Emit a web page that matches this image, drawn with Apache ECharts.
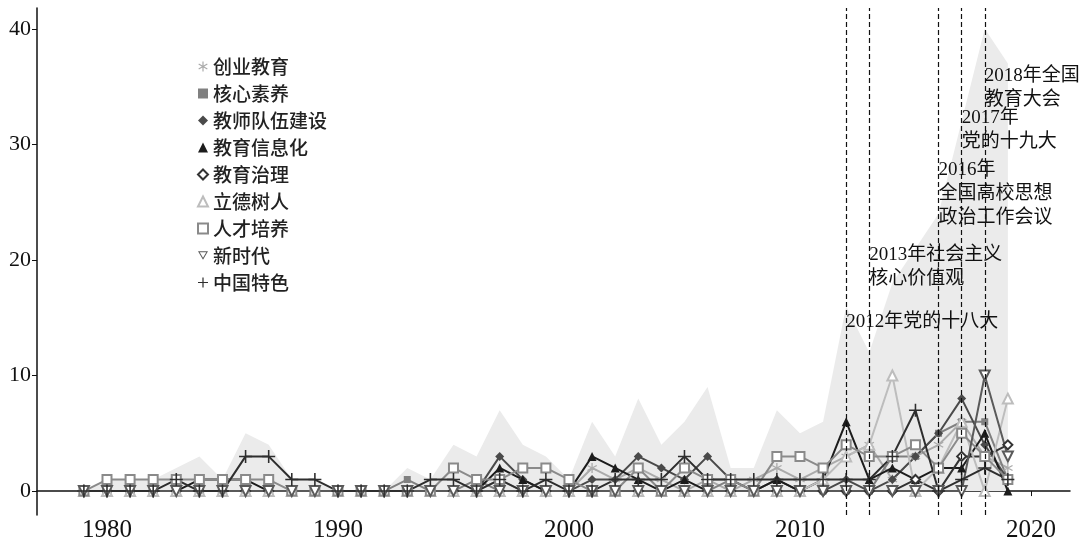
<!DOCTYPE html>
<html>
<head>
<meta charset="utf-8">
<script src="https://cdn.jsdelivr.net/npm/echarts@6/dist/echarts.min.js"></script>
<style>
html,body{margin:0;padding:0;background:#fff;}
#chart{width:1080px;height:543px;}
</style>
</head>
<body>
<div id="chart"></div>
<script>
// ---------- data ----------
const years = [];
for (let y = 1979; y <= 2019; y++) years.push(y);

const xTicks = [1980, 1990, 2000, 2010, 2020];
const yTicks = [0, 10, 20, 30, 40];

// total (grey area)
const total = [0,1,1,1,2,3,1,5,4,1,1,0,0,0,2,1,4,3,7,4,3,1,6,3,8,4,6,9,2,2,7,5,6,16,12,18,21,24,32,40,37];

const chuangye = [0,0,0,0,0,0,0,0,0,0,0,0,0,0,0,0,0,0,1,0,0,0,2,1,2,1,0,1,0,1,2,1,2,3,4,1,3,4,6,3,2];
const hexin    = [0,0,0,0,0,0,0,0,0,0,0,0,0,0,1,0,0,1,0,0,0,0,0,0,0,0,0,0,1,0,0,0,0,0,0,3,3,5,6,6,1];
const jiaoshi  = [0,0,0,0,0,0,0,0,0,0,0,0,0,0,0,0,0,0,3,1,0,0,1,1,3,2,1,3,1,0,1,0,0,1,0,1,3,5,8,4,1];
const xinxi    = [0,0,0,0,0,1,1,1,0,0,0,0,0,0,0,0,0,0,2,1,0,0,3,2,1,0,1,0,0,0,1,0,1,6,1,2,1,2,2,5,0];
const zhili    = [0,0,0,0,0,0,0,0,0,0,0,0,0,0,0,0,0,0,0,0,0,0,0,0,0,0,0,0,0,0,0,0,0,0,0,0,1,0,3,3,4];
const lide     = [0,0,0,0,0,0,0,0,0,0,0,0,0,0,0,0,0,0,0,0,0,0,0,0,0,0,0,0,0,0,0,0,1,3,4,10,0,2,6,0,8];
const rencai   = [0,1,1,1,1,1,1,1,1,0,0,0,0,0,0,0,2,1,1,2,2,1,0,0,2,0,2,1,1,0,3,3,2,4,3,3,4,2,5,3,1];
const xinshidai= [0,0,0,0,0,0,0,0,0,0,0,0,0,0,0,0,0,0,0,0,0,0,0,0,0,0,0,0,0,0,0,0,0,0,0,0,0,0,0,10,3];
const zhongguo = [0,0,0,0,1,0,0,3,3,1,1,0,0,0,0,1,1,0,1,0,1,0,0,1,1,1,3,1,1,1,1,1,1,1,1,3,7,0,1,2,1];

const eventYears = [2012, 2013, 2016, 2017, 2018];
const annoY = [14.6, 19.4, 25.7, 31.2, 34.9];
const annoText = [
  '2012年党的十八大',
  '2013年社会主义\n核心价值观',
  '2016年\n全国高校思想\n政治工作会议',
  '2017年\n党的十九大',
  '2018年全国\n教育大会'
];

// ---------- symbols ----------
const asterisk = 'path://M-0.6,-5L0.6,-5L0.6,5L-0.6,5Z M4.03,3.02L-4.63,-1.98L-4.03,-3.02L4.63,1.98Z M4.63,-1.98L-4.03,3.02L-4.63,1.98L4.03,-3.02Z';
const plus = 'path://M-0.6,-5L0.6,-5L0.6,5L-0.6,5Z M-5,-0.6L5,-0.6L5,0.6L-5,0.6Z';
const invTriHollow = 'path://M0,0L10,0L5,8.66Z M1.7,1L5,6.7L8.3,1Z';

const defs = [
  {name:'创业教育', data:chuangye, color:'#ababab', symbol:asterisk, size:10, icon:asterisk},
  {name:'核心素养', data:hexin, color:'#808080', symbol:'rect', size:7, icon:'rect'},
  {name:'教师队伍建设', data:jiaoshi, color:'#4a4a4a', symbol:'diamond', size:9, icon:'diamond'},
  {name:'教育信息化', data:xinxi, color:'#1c1c1c', symbol:'triangle', size:9, icon:'triangle'},
  {name:'教育治理', data:zhili, color:'#333333', symbol:'emptyDiamond', size:9, icon:'emptyDiamond'},
  {name:'立德树人', data:lide, color:'#bdbdbd', symbol:'emptyTriangle', size:10, icon:'emptyTriangle'},
  {name:'人才培养', data:rencai, color:'#8a8a8a', symbol:'emptyRect', size:9, icon:'emptyRect'},
  {name:'新时代', data:xinshidai, color:'#5a5a5a', symbol:'emptyTriangle', size:10, icon:invTriHollow, rotate:180},
  {name:'中国特色', data:zhongguo, color:'#2e2e2e', symbol:plus, size:13, icon:plus}
];

const serif = '"Liberation Serif", "Times New Roman", "Noto Sans CJK SC", serif';
const cjk = '"Liberation Serif", "Noto Sans CJK SC", sans-serif';

const series = [];
series.push({
  name:'total', type:'line', data: years.map((y,i)=>[y,total[i]]),
  symbol:'none', lineStyle:{width:0}, areaStyle:{color:'#ebebeb', opacity:1},
  z:1, silent:true,
  markLine:{
    silent:true, symbol:['none','none'],
    lineStyle:{type:[5,3], color:'#111', width:1.2},
    label:{show:false},
    data: eventYears.map(y=>({xAxis:y}))
  }
});
defs.forEach(d=>{
  series.push({
    name:d.name, type:'line', data: years.map((y,i)=>[y,d.data[i]]),
    symbol:d.symbol, symbolSize:d.size, symbolRotate:d.rotate||0, showSymbol:true,
    itemStyle:{color:d.color, borderWidth:1.5},
    lineStyle:{color:d.color, width:2},
    z:3
  });
});
series.push({
  name:'anno', type:'scatter', symbolSize:0, z:5, silent:true,
  itemStyle:{opacity:1},
  data: eventYears.map((y,i)=>({value:[y, annoY[i]], text:annoText[i]})),
  label:{show:true, position:'right', distance:0, color:'#111', opacity:1, fontSize:19, lineHeight:24,
    fontFamily:cjk, formatter:p=>p.data.text}
});

const chart = echarts.init(document.getElementById('chart'));
chart.setOption({
  animation:false,
  backgroundColor:'#fff',
  grid:{left:37, right:10, top:8, bottom:26},
  legend:{
    orient:'vertical', left:192, top:52, itemGap:8, itemWidth:10, itemHeight:10,
    textStyle:{fontSize:19, color:'#222', fontWeight:500, fontFamily:'"Noto Sans CJK SC", sans-serif'},
    data: defs.map(d=>({name:d.name, icon:d.icon}))
  },
  xAxis:{
    type:'value', min:1976.97, max:2021.69,
    axisLine:{show:true, lineStyle:{color:'#111', width:1.5}},
    axisTick:{show:true, customValues:xTicks, length:5, lineStyle:{color:'#111'}},
    axisLabel:{customValues:xTicks, fontSize:25, color:'#111', fontFamily:serif, margin:3, formatter:v=>String(v)},
    splitLine:{show:false}
  },
  yAxis:{
    type:'value', min:-2.07, max:41.8,
    axisLine:{show:true, lineStyle:{color:'#111', width:1.5}},
    axisTick:{show:true, customValues:yTicks, length:5, lineStyle:{color:'#111'}},
    axisLabel:{customValues:yTicks, fontSize:22, color:'#111', fontFamily:serif, margin:6, formatter:v=>String(v)},
    splitLine:{show:false}
  },
  series:series
});
</script>
</body>
</html>
